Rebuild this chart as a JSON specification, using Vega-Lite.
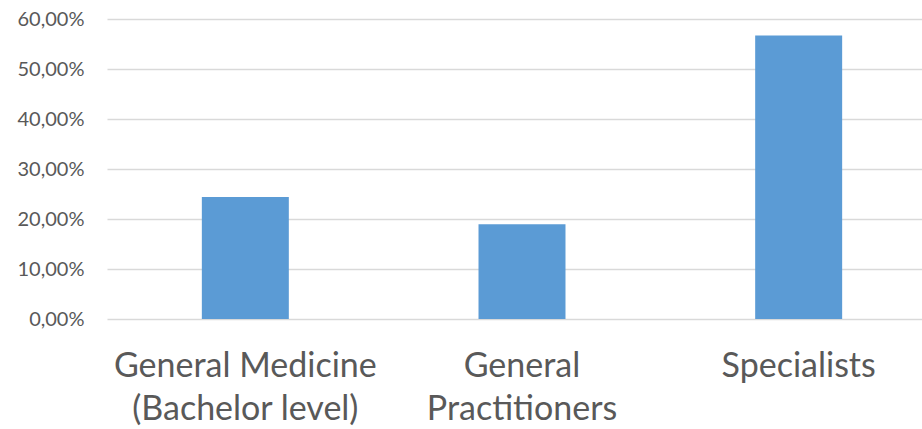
{
  "$schema": "https://vega.github.io/schema/vega-lite/v6.json",
  "autosize": {"type": "none"},
  "width": 815,
  "height": 300,
  "padding": {"left": 107, "top": 19, "right": 0, "bottom": 110},
  "background": "white",
  "data": {
    "values": [
      {"category": "General Medicine (Bachelor level)", "share": 0.2442},
      {"category": "General Practitioners", "share": 0.1897},
      {"category": "Specialists", "share": 0.567}
    ]
  },
  "mark": {"type": "bar", "color": "#5B9BD5"},
  "encoding": {
    "x": {
      "field": "category",
      "type": "nominal",
      "sort": null,
      "scale": {"range": [0, 830], "paddingInner": 0.6856, "paddingOuter": 0.3428},
      "axis": {
        "title": null,
        "domain": false,
        "ticks": false,
        "labelAngle": 0,
        "labelFont": "Lato",
        "labelFontSize": 34,
        "labelColor": "#595959",
        "labelPadding": 30,
        "labelLineHeight": 43,
        "labelBaseline": "top",
        "labelExpr": "datum.value == 'General Medicine (Bachelor level)' ? ['General Medicine', '(Bachelor level)'] : datum.value == 'General Practitioners' ? ['General', 'Practitioners'] : datum.value",
        "labelLimit": 0
      }
    },
    "y": {
      "field": "share",
      "type": "quantitative",
      "scale": {"domain": [0, 0.6], "nice": false},
      "axis": {
        "title": null,
        "domain": false,
        "ticks": false,
        "values": [0, 0.1, 0.2, 0.3, 0.4, 0.5, 0.6],
        "labelExpr": "replace(format(datum.value, '.2%'), '.', ',')",
        "labelFont": "Lato",
        "labelFontSize": 20,
        "labelColor": "#595959",
        "labelPadding": 23,
        "gridColor": "#D9D9D9",
        "gridWidth": 1.5
      }
    }
  },
  "config": {"view": {"stroke": null}}
}
